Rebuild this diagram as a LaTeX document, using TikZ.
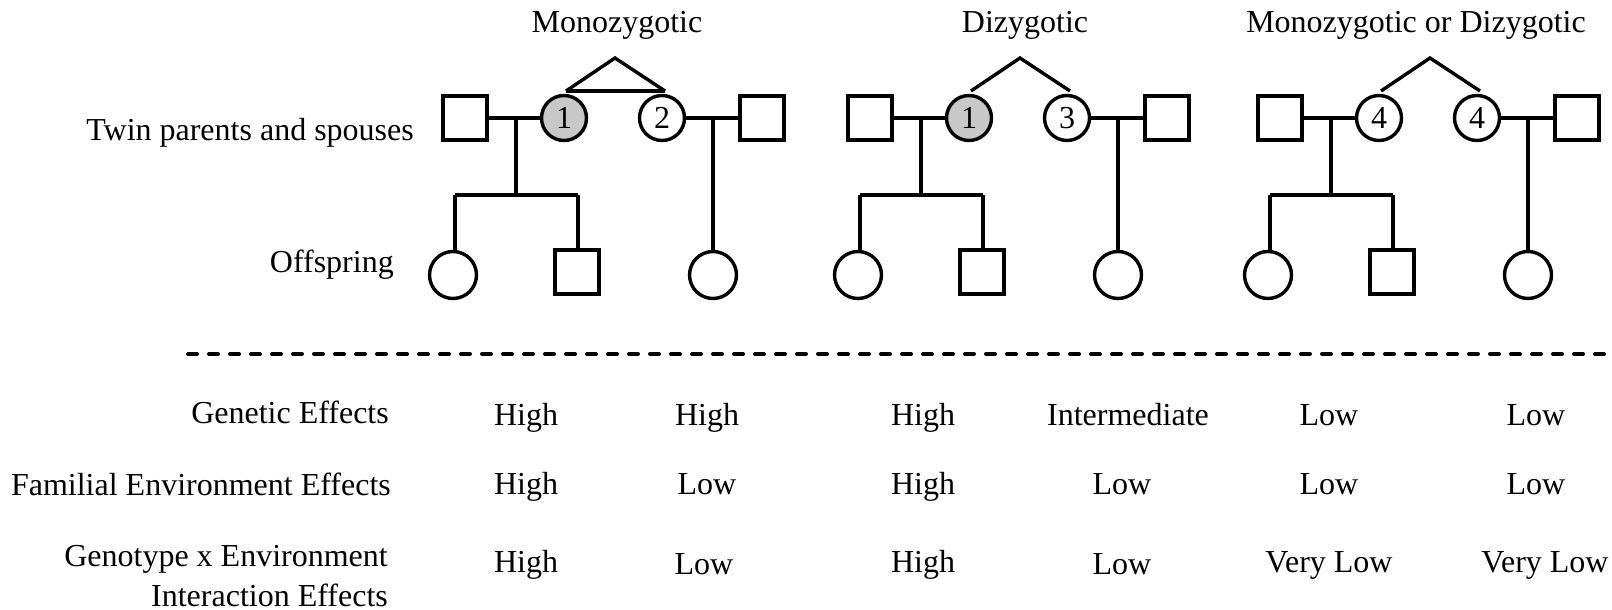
\documentclass[tikz,border=0pt]{standalone}
\usepackage{fontspec}
\setmainfont{Liberation Serif}
\definecolor{twinfill}{RGB}{200,200,200}
\begin{document}
\begin{tikzpicture}[x=1pt,y=-1pt,
  every node/.style={font=\fontsize{32}{39}\selectfont, inner sep=0pt},
  male/.style={draw, line width=3.4pt, rectangle, minimum size=44pt},
  parentf/.style={draw, line width=3.4pt, circle, minimum size=45pt},
  childf/.style={draw, line width=3.4pt, circle, minimum size=47pt},
  link/.style={line width=3.4pt},
  lab/.style={anchor=base east},
  val/.style={anchor=base}]
\useasboundingbox (0,0) rectangle (1612,610);

% titles
\node[val] (t1) at (617,33) {Monozygotic};
\node[val] (t2) at (1025,33) {Dizygotic};
\node[val] (t3) at (1416,33) {Monozygotic or Dizygotic};

% row labels
\node[lab] (lp) at (414,140) {Twin parents and spouses};
\node[lab] (lo) at (394,272) {Offspring};

\foreach \g/\dx/\na/\nb/\fa in {1/0/1/2/twinfill, 2/405/1/3/twinfill, 3/815/4/4/white}{
  \node[male] (L\g) at (465+\dx,118) {};
  \node[parentf, fill=\fa] (A\g) at (564+\dx,118) {\na};
  \node[parentf] (B\g) at (662+\dx,118) {\nb};
  \node[male] (R\g) at (762+\dx,118) {};
  \coordinate (mL\g) at (516+\dx,118);
  \coordinate (s\g) at (516+\dx,195);
  \coordinate (sL\g) at (455+\dx,195);
  \coordinate (sR\g) at (578+\dx,195);
  \coordinate (mR\g) at (713+\dx,118);
  \coordinate (ap\g) at (615+\dx,58);
  \coordinate (tA\g) at (566+\dx,91);
  \coordinate (tB\g) at (665+\dx,91);
  \node[childf] (c1\g) at (453+\dx,275) {};
  \node[male] (c2\g) at (577+\dx,272) {};
  \node[childf] (c3\g) at (713+\dx,275) {};
  \draw[link] (L\g.east) -- (A\g.west);
  \draw[link] (B\g.east) -- (R\g.west);
  \draw[link] (mL\g) -- (s\g);
  \draw[link] (sL\g) -- (sR\g);
  \draw[link] (sL\g) -- (sL\g |- c1\g.north);
  \draw[link] (sR\g) -- (sR\g |- c2\g.north);
  \draw[link] (mR\g) -- (c3\g.north);
  \draw[link] (tA\g) -- (ap\g) -- (tB\g);
}
\draw[link] (tA1) -- (tB1);

% dashed separator
\coordinate (dL) at (188,354);
\coordinate (dR) at (1612,354);
\draw[line width=4pt, line cap=round, dash pattern=on 9pt off 12pt] (dL) -- (dR);

% table labels
\node[lab] (g0) at (389,423) {Genetic Effects};
\node[lab] (f0) at (391,495) {Familial Environment Effects};
\node[lab] (x0) at (388,566) {Genotype x Environment};
\node[lab] (x0b) at (388,606) {Interaction Effects};

% values row 1
\node[val] (g1) at (526,425) {High};
\node[val] (g2) at (707,425) {High};
\node[val] (g3) at (923,425) {High};
\node[val] (g4) at (1128,425) {Intermediate};
\node[val] (g5) at (1329,425) {Low};
\node[val] (g6) at (1536,425) {Low};
% values row 2
\node[val] (f1) at (526,494) {High};
\node[val] (f2) at (707,494) {Low};
\node[val] (f3) at (923,494) {High};
\node[val] (f4) at (1122,494) {Low};
\node[val] (f5) at (1329,494) {Low};
\node[val] (f6) at (1536,494) {Low};
% values row 3
\node[val] (x1) at (526,572) {High};
\node[val] (x2) at (704,574) {Low};
\node[val] (x3) at (923,572) {High};
\node[val] (x4) at (1122,574) {Low};
\node[val] (x5) at (1329,572) {Very Low};
\node[val] (x6) at (1545,572) {Very Low};
\end{tikzpicture}
\end{document}
